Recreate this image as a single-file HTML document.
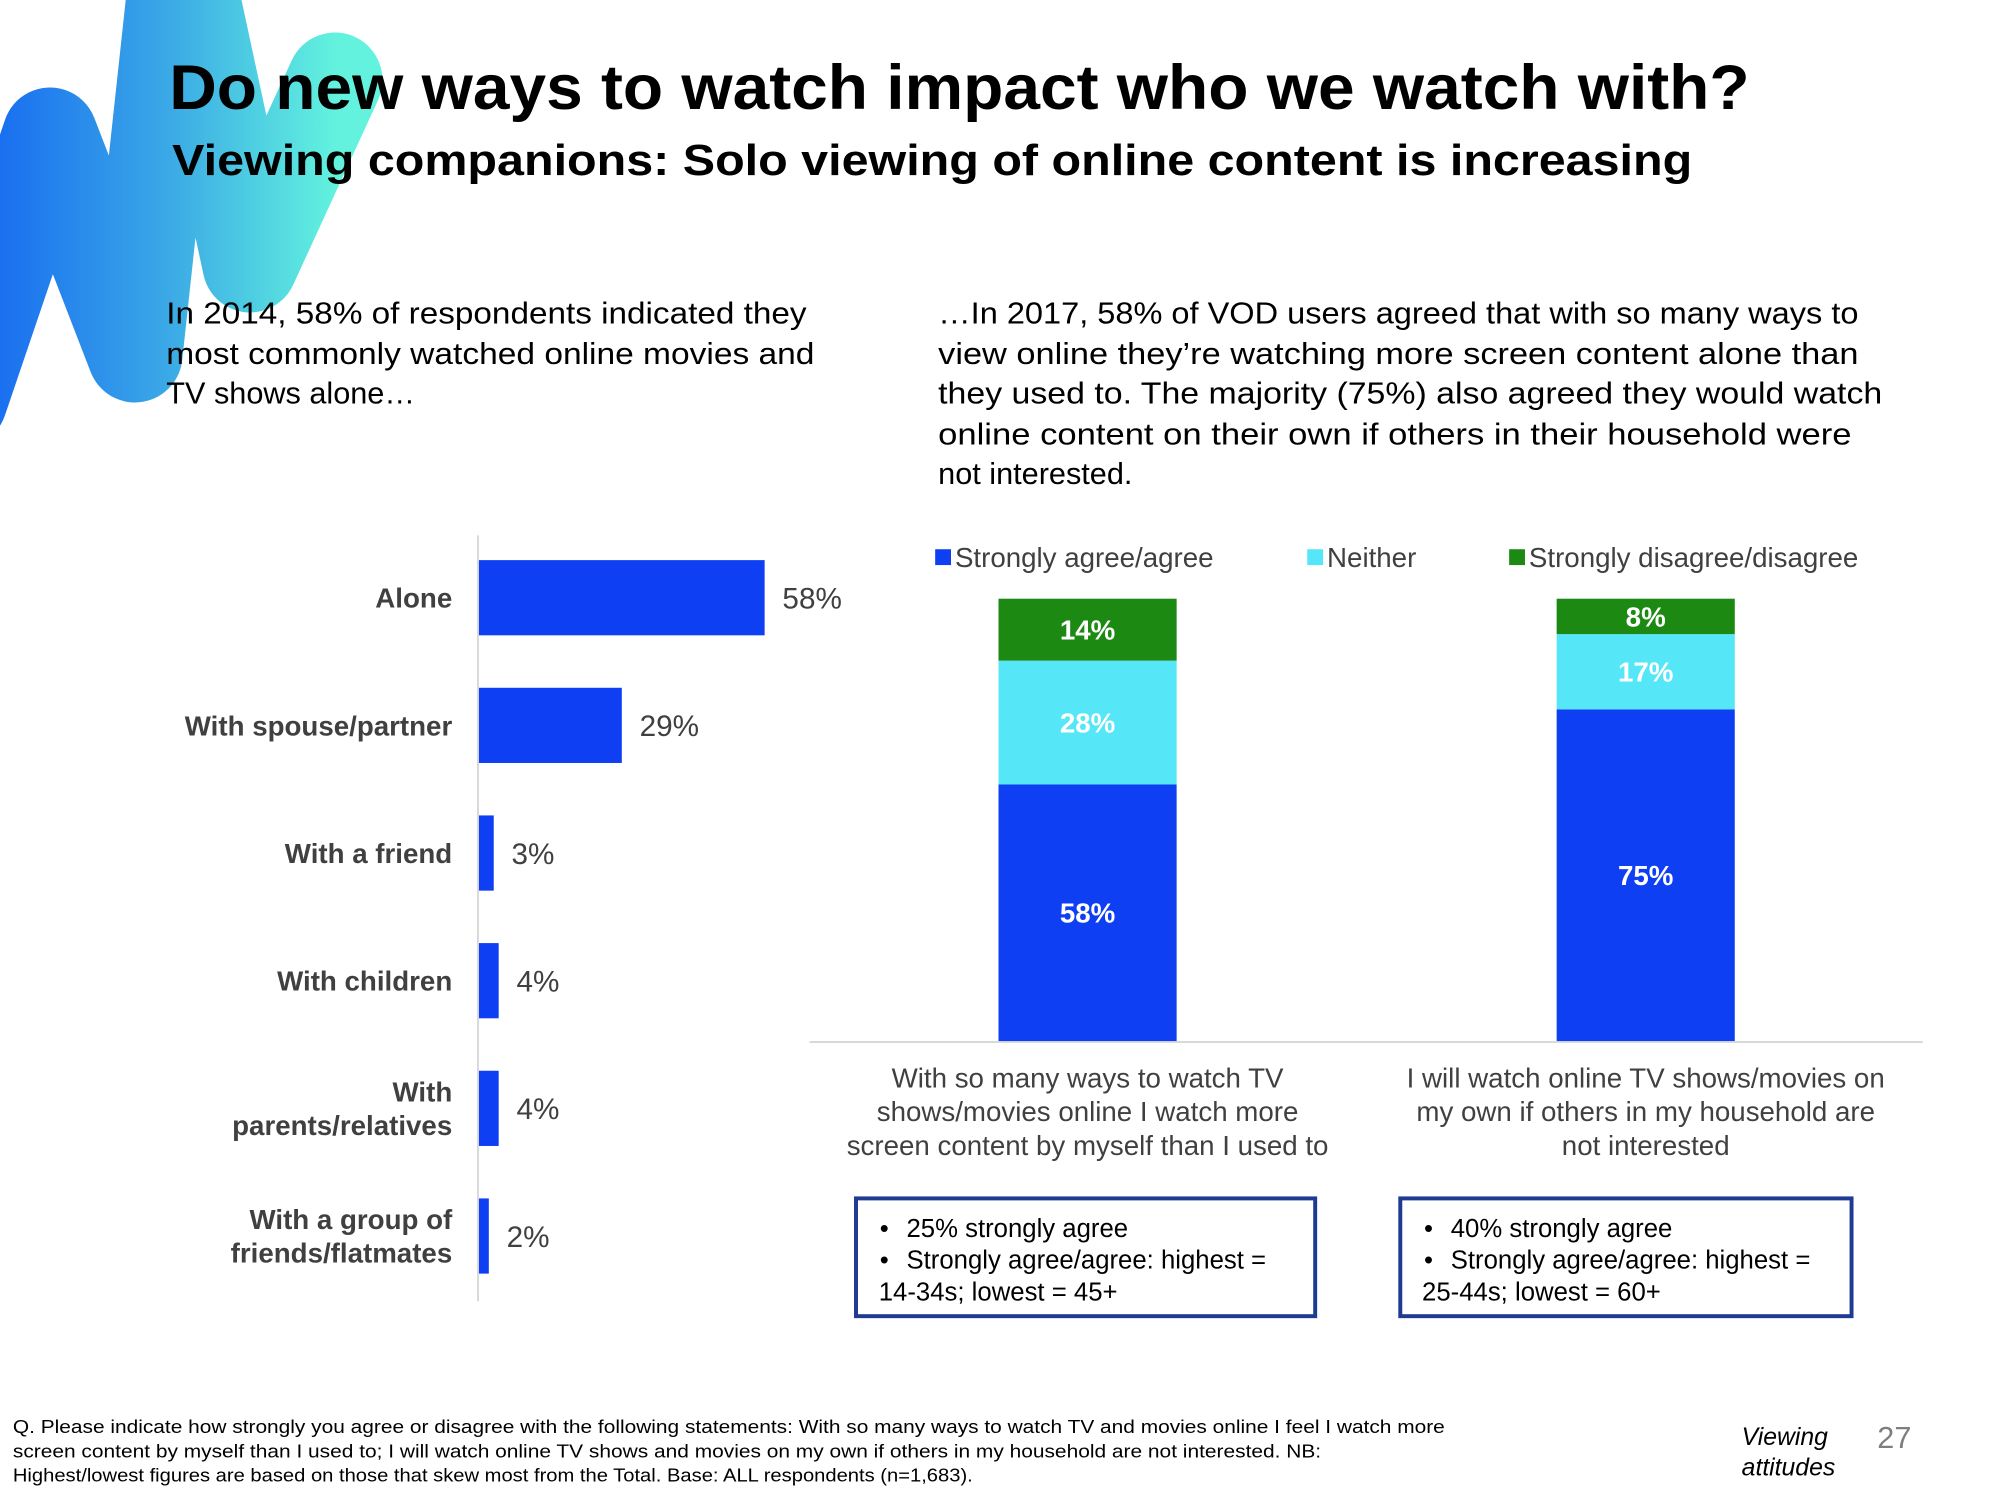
<!DOCTYPE html>
<html><head><meta charset="utf-8"><style>
html,body{margin:0;padding:0;background:#fff}
svg{display:block}
text{font-family:"Liberation Sans",sans-serif}
</style></head><body>
<svg id="s" width="2000" height="1500" viewBox="0 0 2000 1500" xmlns="http://www.w3.org/2000/svg">
<defs><linearGradient id="g" x1="0" y1="0" x2="1" y2="0"><stop offset="0" stop-color="#1262f2"/><stop offset="0.55" stop-color="#3aa8e6"/><stop offset="1" stop-color="#62f2de"/></linearGradient></defs>
<polyline points="-40,400 50,135 135,355 180,-60 250,265 335,80" fill="none" stroke="url(#g)" stroke-width="95" stroke-linejoin="round" stroke-linecap="round"/>
<g transform="scale(0.9896)">
<text x="171" y="110" font-size="64" font-weight="bold" fill="#000" textLength="1597" lengthAdjust="spacingAndGlyphs">Do new ways to watch impact who we watch with?</text>
<text x="174" y="177" font-size="44" font-weight="bold" fill="#000" textLength="1536" lengthAdjust="spacingAndGlyphs">Viewing companions: Solo viewing of online content is increasing</text>
<g font-size="31" fill="#000">
<text x="168" y="327" textLength="647" lengthAdjust="spacingAndGlyphs">In 2014, 58% of respondents indicated they</text>
<text x="168" y="368" textLength="655" lengthAdjust="spacingAndGlyphs">most commonly watched online movies and</text>
<text x="168" y="408">TV shows alone…</text>
</g>
<g font-size="31" fill="#000">
<text x="948" y="327" textLength="930" lengthAdjust="spacingAndGlyphs">…In 2017, 58% of VOD users agreed that with so many ways to</text>
<text x="948" y="368" textLength="930" lengthAdjust="spacingAndGlyphs">view online they’re watching more screen content alone than</text>
<text x="948" y="408" textLength="954" lengthAdjust="spacingAndGlyphs">they used to. The majority (75%) also agreed they would watch</text>
<text x="948" y="449" textLength="923" lengthAdjust="spacingAndGlyphs">online content on their own if others in their household were</text>
<text x="948" y="489">not interested.</text>
</g>
<g id="left"></g>
<g id="right"></g>
<g font-size="26" fill="#000">
<rect x="865" y="1211" width="464" height="119" fill="none" stroke="#1f3a93" stroke-width="4"/>
<text x="889" y="1250">•</text><text x="916" y="1250">25% strongly agree</text>
<text x="889" y="1282">•</text><text x="916" y="1282">Strongly agree/agree: highest =</text>
<text x="888" y="1314">14-34s; lowest = 45+</text>
</g>
<g font-size="26" fill="#000">
<rect x="1415" y="1211" width="456" height="119" fill="none" stroke="#1f3a93" stroke-width="4"/>
<text x="1439" y="1250">•</text><text x="1466" y="1250">40% strongly agree</text>
<text x="1439" y="1282">•</text><text x="1466" y="1282">Strongly agree/agree: highest =</text>
<text x="1437" y="1314">25-44s; lowest = 60+</text>
</g>
<g font-size="19" fill="#000">
<text x="13" y="1448" textLength="1447" lengthAdjust="spacingAndGlyphs">Q. Please indicate how strongly you agree or disagree with the following statements: With so many ways to watch TV and movies online I feel I watch more</text>
<text x="13" y="1473" textLength="1322" lengthAdjust="spacingAndGlyphs">screen content by myself than I used to; I will watch online TV shows and movies on my own if others in my household are not interested. NB:</text>
<text x="13" y="1497" textLength="970" lengthAdjust="spacingAndGlyphs">Highest/lowest figures are based on those that skew most from the Total. Base: ALL respondents (n=1,683).</text>
</g>
<g font-size="25" font-style="italic" fill="#000">
<text x="1760" y="1460">Viewing</text><text x="1760" y="1491">attitudes</text>
</g>
<text x="1897" y="1463" font-size="31" fill="#7f7f7f">27</text>
</g>
</svg>
<script>
const leftCats = [["Alone"],["With spouse/partner"],["With a friend"],["With children"],["With","parents/relatives"],["With a group of","friends/flatmates"]];
const leftVals = [58,29,3,4,4,2];
const stackCats = [["With so many ways to watch TV","shows/movies online I watch more","screen content by myself than I used to"],["I will watch online TV shows/movies on","my own if others in my household are","not interested"]];
const agreeVals = [58,75];
const neitherVals = [28,17];
const disagreeVals = [14,8];
const seriesNames = ["Strongly agree/agree","Neither","Strongly disagree/disagree"];

const NS="http://www.w3.org/2000/svg";
function mk(p,tag,attrs,txt){const e=document.createElementNS(NS,tag);for(const k in attrs)e.setAttribute(k,attrs[k]);if(txt!==undefined)e.textContent=txt;p.appendChild(e);return e;}

const L=document.getElementById('left');
const lx0=484, lscale=4.977, lband0=604, lstep=129, lbarH=76;
const lx=v=>lx0+v*lscale, ly=i=>lband0+i*lstep;
const ax=mk(L,'line',{x1:lx0-1,y1:541,x2:lx0-1,y2:1315,stroke:'#d9d9d9','stroke-width':2});


leftVals.forEach((v,i)=>{
  const r=mk(L,'rect',{x:lx0,y:ly(i)-lbarH/2,width:lx(v)-lx0,height:lbarH,fill:'#0f3ff2'});
  
  
  const t=mk(L,'text',{x:lx(v)+18,y:ly(i)+11,'font-size':30,fill:'#404040'},v+'%');
  
  
  const lines=leftCats[i];
  lines.forEach((s,j)=>{
    const yy=ly(i)+10+(j-(lines.length-1)/2)*34;
    const c=mk(L,'text',{x:457,y:yy,'font-size':28,'font-weight':'bold',fill:'#404040','text-anchor':'end'},s);
    
    
  });
});

const R=document.getElementById('right');
const base=1052, hscale=4.47, barXs=[1009,1573], bw=180;
const yv=v=>base-v*hscale;
const colors=['#0f3ff2','#55e6f7','#1c8a12'];
const bl=mk(R,'line',{x1:818,y1:base+1,x2:1943,y2:base+1,stroke:'#d9d9d9','stroke-width':2});


const legX=[945,1321,1525];
seriesNames.forEach((n,k)=>{
  const sq=mk(R,'rect',{x:legX[k],y:555,width:16,height:16,fill:colors[k]});
  
  
  const t=mk(R,'text',{x:legX[k]+20,y:573,'font-size':28,fill:'#404040'},n);
  
  
});
[0,1].forEach(i=>{
  const segs=[agreeVals[i],neitherVals[i],disagreeVals[i]];
  let acc=0;
  segs.forEach((v,k)=>{
    const y1=yv(acc+v), y0=yv(acc);
    const r=mk(R,'rect',{x:barXs[i],y:y1,width:bw,height:y0-y1,fill:colors[k]});
    
    
    const t=mk(R,'text',{x:barXs[i]+bw/2,y:(y0+y1)/2+10,'font-size':28,'font-weight':'bold',fill:'#fff','text-anchor':'middle'},v+'%');
    
    
    acc+=v;
  });
  stackCats[i].forEach((s,j)=>{
    const c=mk(R,'text',{x:barXs[i]+bw/2,y:1099+j*34,'font-size':28,fill:'#404040','text-anchor':'middle'},s);
    
    
  });
});
</script>
</body></html>
